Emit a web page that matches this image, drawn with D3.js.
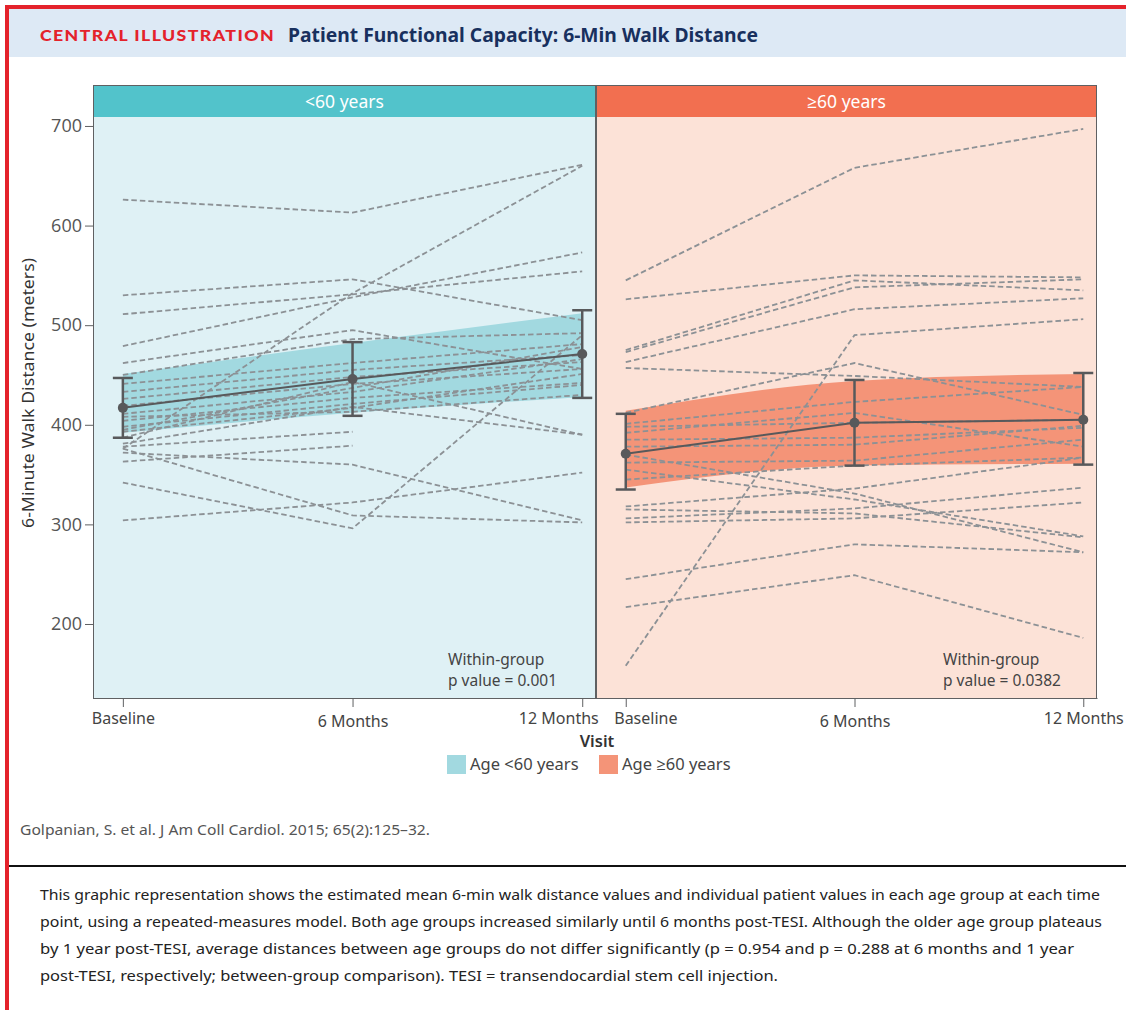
<!DOCTYPE html>
<html>
<head>
<meta charset="utf-8">
<script src="https://cdn.jsdelivr.net/npm/d3@7"></script>
<style>
  html, body { margin: 0; padding: 0; background: #fff; }
  svg { display: block; }
</style>
</head>
<body>
<svg id="chart" width="1126" height="1010"></svg>
<script>
// ---------------- DATA ----------------
const visits = ["Baseline", "6 Months", "12 Months"];
const yTicks = [200, 300, 400, 500, 600, 700];
const groups = ["<60 years", "\u226560 years"];
const legendLabels = ["Age <60 years", "Age \u226560 years"];
const pValues = ["0.001", "0.0382"];

// individual patients: [Baseline, 6 Months, 12 Months]
const patientsUnder60 = [
  [626, 613, 661], [376, 532, 660], [530, 546, 505], [511, 531, 554],
  [479, 528, 573], [462, 495, 456], [450, 486, 492], [441, 462, 481],
  [433, 455, 470], [426, 448, 463], [419, 441, 456], [411, 433, 466],
  [404, 427, 442], [398, 421, 440], [393, 417, 451], [387, 443, 390],
  [381, 418, 390], [378, 393, null], [363, 379, null], [376, 309, 302],
  [372, 360, 304], [342, 296, 490], [304, 322, 352], [395, 437, 478],
  [408, 413, 430]
];
const patientsOver60 = [
  [545, 658, 697], [526, 550, 548], [475, 545, 535], [473, 538, 546],
  [463, 516, 527], [457, 449, 438], [158, 490, 506], [412, 462, 410],
  [245, 280, 272], [217, 249, 186], [306, 316, 337], [302, 306, 322],
  [315, 311, 287], [318, 336, 367], [370, 331, 272], [355, 325, 288],
  [378, 380, 399], [385, 387, 397], [392, 412, 378], [401, 423, 438],
  [362, 364, 385], [345, 359, 367], [398, 402, 405]
];

// estimated means and error bars
const meanUnder60 = [417, 446, 471];
const errLowUnder60 = [387, 409, 427];
const errHighUnder60 = [447, 483, 515];
const bandLowUnder60 = [392, 412, 428];
const bandHighUnder60 = [451, 482, 512];

const meanOver60 = [371, 402, 405];
const errLowOver60 = [335, 359, 360];
const errHighOver60 = [411, 445, 452];
const bandLowOver60 = [337, 359, 361];
const bandHighOver60 = [414, 444, 451];

const citation = "Golpanian, S. et al. J Am Coll Cardiol. 2015; 65(2):125\u201332.";
const captionLines = [
  "This graphic representation shows the estimated mean 6-min walk distance values and individual patient values in each age group at each time",
  "point, using a repeated-measures model. Both age groups increased similarly until 6 months post-TESI. Although the older age group plateaus",
  "by 1 year post-TESI, average distances between age groups do not differ significantly (p = 0.954 and p = 0.288 at 6 months and 1 year",
  "post-TESI, respectively; between-group comparison). TESI = transendocardial stem cell injection."
];

// ---------------- DRAW ----------------
(function () {
const svg = d3.select("#chart");
const W = 1126, H = 1010;
const FONT = "'Noto Sans', 'Open Sans', sans-serif";

// frame
svg.append("rect").attr("x", 9).attr("y", 9).attr("width", W - 9).attr("height", 48).attr("fill", "#dde9f5");
svg.append("rect").attr("x", 5).attr("y", 5).attr("width", W - 5).attr("height", 4).attr("fill", "#e4222b");
svg.append("rect").attr("x", 5).attr("y", 5).attr("width", 4).attr("height", H - 5).attr("fill", "#e4222b");

svg.append("text").attr("x", 40).attr("y", 41)
  .attr("font-family", "Lato, 'Noto Sans', sans-serif").attr("font-weight", 900).attr("font-size", 15)
  .attr("letter-spacing", 1.2).attr("fill", "#e4222b")
  .attr("textLength", 235).attr("lengthAdjust", "spacingAndGlyphs")
  .text("CENTRAL ILLUSTRATION");
svg.append("text").attr("x", 288).attr("y", 42)
  .attr("font-family", FONT).attr("font-weight", 700).attr("font-size", 19)
  .attr("fill", "#18305e")
  .attr("textLength", 470).attr("lengthAdjust", "spacingAndGlyphs")
  .text("Patient Functional Capacity: 6-Min Walk Distance");

// scales
const plotTop = 117, plotBottom = 698, stripTop = 85;
const y = d3.scaleLinear().domain([125.7, 709]).range([plotBottom, plotTop]);
const panels = [
  { x0: 93, x1: 596, bg: "#dff1f5", strip: "#52c3cb", band: "#a2d9e0",
    pts: patientsUnder60, mean: meanUnder60, lo: errLowUnder60, hi: errHighUnder60,
    bLo: bandLowUnder60, bHi: bandHighUnder60, label: groups[0], p: pValues[0] },
  { x0: 596, x1: 1097, bg: "#fce2d7", strip: "#f26f50", band: "#f49478",
    pts: patientsOver60, mean: meanOver60, lo: errLowOver60, hi: errHighOver60,
    bLo: bandLowOver60, bHi: bandHighOver60, label: groups[1], p: pValues[1] }
];

panels.forEach((P, pi) => {
  const x = d3.scaleLinear().domain([-0.13, 2.06]).range([P.x0, P.x1]);
  const g = svg.append("g");

  g.append("rect").attr("x", P.x0).attr("y", plotTop).attr("width", P.x1 - P.x0).attr("height", plotBottom - plotTop).attr("fill", P.bg);

  // band
  const area = d3.area().x((d, i) => x(i)).y0(d => y(d[0])).y1(d => y(d[1])).curve(d3.curveMonotoneX);
  g.append("path").datum(P.bLo.map((v, i) => [v, P.bHi[i]])).attr("d", area).attr("fill", P.band);

  // patient lines
  const pline = d3.line().defined(e => e.v != null).x(e => x(e.i)).y(e => y(e.v));
  g.selectAll(".pt").data(P.pts).join("path")
    .attr("d", d => pline(d.map((v, i) => ({ v, i }))))
    .attr("fill", "none").attr("stroke", "#8c9195").attr("stroke-width", 1.8)
    .attr("stroke-dasharray", "5.5,3");

  // mean line
  g.append("path").datum(P.mean).attr("d", d3.line().x((d, i) => x(i)).y(d => y(d)))
    .attr("fill", "none").attr("stroke", "#58595b").attr("stroke-width", 2);

  // error bars
  P.mean.forEach((m, i) => {
    const cx = x(i);
    g.append("line").attr("x1", cx).attr("x2", cx).attr("y1", y(P.lo[i])).attr("y2", y(P.hi[i]))
      .attr("stroke", "#58595b").attr("stroke-width", 2.5);
    [P.lo[i], P.hi[i]].forEach(v => g.append("line").attr("x1", cx - 10).attr("x2", cx + 10)
      .attr("y1", y(v)).attr("y2", y(v)).attr("stroke", "#58595b").attr("stroke-width", 2.5));
    g.append("circle").attr("cx", cx).attr("cy", y(m)).attr("r", 5).attr("fill", "#58595b");
  });

  // strip
  g.append("rect").attr("x", P.x0).attr("y", stripTop).attr("width", P.x1 - P.x0).attr("height", plotTop - stripTop)
    .attr("fill", P.strip);
  g.append("text").attr("x", (P.x0 + P.x1) / 2).attr("y", 108).attr("text-anchor", "middle")
    .attr("font-family", FONT).attr("font-size", 17.5).attr("fill", "#fff").text(P.label);

  // borders
  g.append("rect").attr("x", P.x0 + 0.5).attr("y", stripTop + 0.5).attr("width", P.x1 - P.x0 - 1).attr("height", plotBottom - stripTop)
    .attr("fill", "none").attr("stroke", "#5f6062").attr("stroke-width", 1);

  // p value text
  const tx = pi === 0 ? 448 : 943;
  g.append("text").attr("x", tx).attr("y", 665).attr("font-family", FONT).attr("font-size", 15.5)
    .attr("fill", "#444").text("Within-group");
  g.append("text").attr("x", tx).attr("y", 686).attr("font-family", FONT).attr("font-size", 15.5)
    .attr("fill", "#444").text("p value = " + P.p);

  // x axis
  const ax = g.append("g").attr("transform", `translate(0,${plotBottom})`)
    .call(d3.axisBottom(x).tickValues([0, 1, 2]).tickFormat(i => visits[i]).tickSize(9).tickSizeOuter(0));
  ax.select(".domain").attr("stroke", "#5f6062");
  ax.selectAll(".tick line").attr("stroke", "#5f6062");
  ax.selectAll(".tick text").attr("font-family", FONT).attr("font-size", 16).attr("fill", "#444")
    .attr("dy", (d) => d === 1 ? "1.05em" : "0.9em");
  if (pi === 0) {
    ax.selectAll(".tick text").filter(d => d === 2).attr("text-anchor", "end").attr("x", 16);
  } else {
    ax.selectAll(".tick text").filter(d => d === 0).attr("text-anchor", "start").attr("x", -12);
  }
});

// y axis
const ay = svg.append("g").attr("transform", "translate(93,0)")
  .call(d3.axisLeft(y).tickValues(yTicks).tickSize(8).tickSizeOuter(0));
ay.select(".domain").remove();
ay.selectAll(".tick line").attr("stroke", "#5f6062");
ay.selectAll(".tick text").attr("font-family", "'Open Sans', sans-serif").attr("font-size", 18)
  .attr("fill", "#555").attr("x", -11);

svg.append("text").attr("transform", "translate(34,393) rotate(-90)").attr("text-anchor", "middle")
  .attr("font-family", FONT).attr("font-size", 17).attr("fill", "#333")
  .attr("textLength", 270).attr("lengthAdjust", "spacingAndGlyphs")
  .text("6-Minute Walk Distance (meters)");

svg.append("text").attr("x", 597).attr("y", 747).attr("text-anchor", "middle")
  .attr("font-family", FONT).attr("font-weight", 600).attr("font-size", 16.5).attr("fill", "#333").text("Visit");

// legend
const legendColors = ["#a2d9e0", "#f49478"];
const legendX = [447, 599];
legendLabels.forEach((lab, i) => {
  svg.append("rect").attr("x", legendX[i]).attr("y", 755).attr("width", 19).attr("height", 19).attr("fill", legendColors[i]);
  svg.append("text").attr("x", legendX[i] + 23).attr("y", 770).attr("font-family", FONT).attr("font-size", 16.5)
    .attr("fill", "#444").text(lab);
});

// footer
svg.append("text").attr("x", 20).attr("y", 835).attr("font-family", FONT).attr("font-size", 13.5)
  .attr("fill", "#555").attr("textLength", 410).attr("lengthAdjust", "spacingAndGlyphs").text(citation);
svg.append("rect").attr("x", 9).attr("y", 865).attr("width", W - 9).attr("height", 2).attr("fill", "#111");

const capLens = [1060, 1062, 1034, 738];
captionLines.forEach((t, i) => {
  svg.append("text").attr("x", 40).attr("y", 900 + i * 27).attr("font-family", FONT).attr("font-size", 14.8)
    .attr("fill", "#222").attr("textLength", capLens[i]).attr("lengthAdjust", "spacingAndGlyphs").text(t);
});
})();
</script>
</body>
</html>
